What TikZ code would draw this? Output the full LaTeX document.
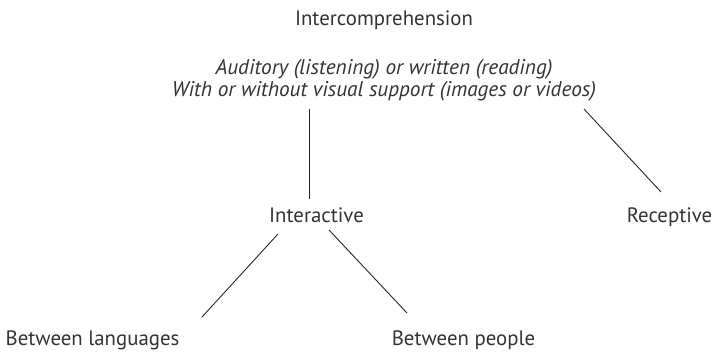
\documentclass[tikz,border=0pt]{standalone}
\usepackage{fontspec}
\setmainfont{PT Sans}
\usetikzlibrary{calc}
\newlength\mytw
\settowidth\mytw{\fontsize{10}{12}\selectfont Intercomprehension}
\pgfmathsetmacro\myfs{10*178/\mytw}
\newlength\mytwi
\settowidth\mytwi{\fontsize{10}{12}\selectfont\itshape Auditory (listening) or written (reading)}
\pgfmathsetmacro\myfsi{10*337/\mytwi}
\definecolor{txt}{HTML}{333333}
\tikzset{
  lbl/.style={inner sep=0pt, anchor=base, text=txt, font=\fontsize{\myfs}{\myfs}\selectfont},
  ilbl/.style={inner sep=0pt, anchor=base, text=txt, font=\fontsize{\myfsi}{\myfsi}\selectfont\itshape},
  conn/.style={draw=black!85, line width=0.9pt}
}
\begin{document}
\begin{tikzpicture}[x=1pt,y=1pt]
\useasboundingbox (0,0) rectangle (714,351);
\node[lbl] (title) at (384,325) {Intercomprehension};
\node[ilbl] (desc1) at (384,276) {Auditory (listening) or written (reading)};
\node[ilbl] (desc2) at (384,254) {With or without visual support (images or videos)};
\node[lbl] (inter) at (316.5,129) {Interactive};
\node[lbl] (recep) at (669.5,129) {Receptive};
\node[lbl] (betlang) at (92.5,6) {Between languages};
\node[lbl] (betpeo) at (463.5,6) {Between people};
\draw[conn] ($(desc2.base)+(-75,-12)$) -- ($(inter.base)+(-7.5,23)$);
\draw[conn] ($(desc2.base)+(200,-12)$) -- ($(recep.base)+(-8.5,30)$);
\draw[conn] ($(inter.base)+(-38.5,-12)$) -- ($(betlang.base)+(109.5,28)$);
\draw[conn] ($(inter.base)+(12.5,-8)$) -- ($(betpeo.base)+(-56.5,32)$);
\end{tikzpicture}
\end{document}
